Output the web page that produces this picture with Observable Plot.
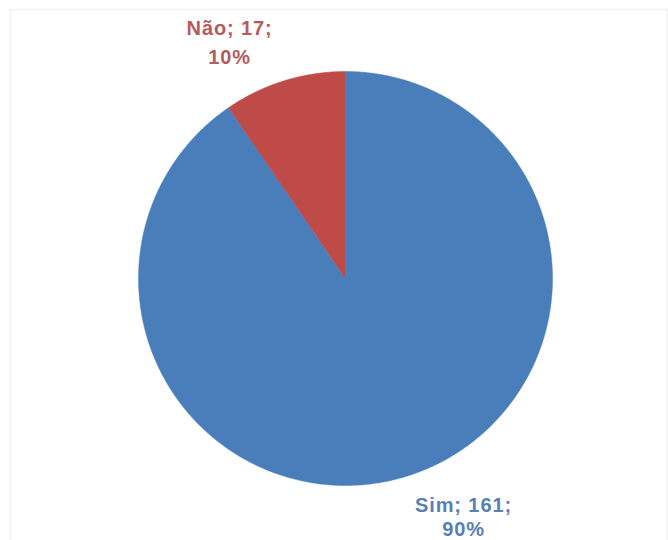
<!DOCTYPE html>
<html>
<head>
<meta charset="utf-8">
<script src="https://cdn.jsdelivr.net/npm/d3@7"></script>
<script src="https://cdn.jsdelivr.net/npm/@observablehq/plot@0.6"></script>
<style>
  html, body { margin: 0; padding: 0; background: #fff; }
  .lbl text { letter-spacing: 0.9px; }
</style>
</head>
<body>
<div id="chart"></div>
<script>
// Data
const categories = ["Sim", "Não"];
const counts = [161, 17];
const percents = ["90%", "10%"];
const colors = ["#4a7ebb", "#be4b48"];
const labelColors = ["#5a7fb3", "#b65a5e"];

// Layout (not data)
const W = 668, H = 540;
const cx = 345, cy = 278, r = 207;
// label anchor positions in unit-circle coordinates (Excel "best fit")
const labelPos = [[0.57, -1.15], [-0.56, 1.15]];
const labelLineHeights = [1.2, 1.45];

const pie = d3.pie().sort(null).startAngle(0).endAngle(2 * Math.PI)(counts);

// Build slice outlines (unit circle coordinates) from the pie angles
const slices = [];
pie.forEach((p, i) => {
  const n = Math.max(4, Math.ceil((p.endAngle - p.startAngle) / 0.01));
  slices.push({cat: categories[i], x: 0, y: 0, k: -1});
  for (let j = 0; j <= n; j++) {
    const a = p.startAngle + (p.endAngle - p.startAngle) * j / n;
    slices.push({cat: categories[i], x: Math.sin(a), y: Math.cos(a), k: j});
  }
  slices.push({cat: categories[i], x: 0, y: 0, k: n + 1});
});

const labels = categories.map((c, i) => ({
  cat: c,
  x: labelPos[i][0],
  y: labelPos[i][1],
  text: `${c}; ${counts[i]};\n${percents[i]}`
}));

const chart = Plot.plot({
  width: W,
  height: H,
  margin: 0,
  x: {type: "linear", domain: [-1, 1], range: [cx - r, cx + r], axis: null},
  y: {type: "linear", domain: [-1, 1], range: [cy + r, cy - r], axis: null},
  color: {domain: categories, range: colors},
  style: {background: "#fff"},
  marks: [
    Plot.frame({stroke: "#f0f0f0", strokeWidth: 1.5, insetLeft: 10, insetTop: 9, insetRight: 1, insetBottom: -2}),
    Plot.line(slices, {
      x: "x", y: "y", z: "cat",
      fill: "cat", stroke: "cat", strokeWidth: 0.5,
      curve: "linear-closed"
    }),
    ...labels.map((d, i) => Plot.text([d], {
      x: "x", y: "y", text: "text",
      fill: labelColors[i],
      fontSize: 20, fontWeight: "bold",
      fontFamily: "Liberation Sans, Arial, sans-serif",
      lineHeight: labelLineHeights[i],
      textAnchor: "middle",
      className: "lbl"
    }))
  ]
});

document.getElementById("chart").appendChild(chart);
</script>
</body>
</html>
